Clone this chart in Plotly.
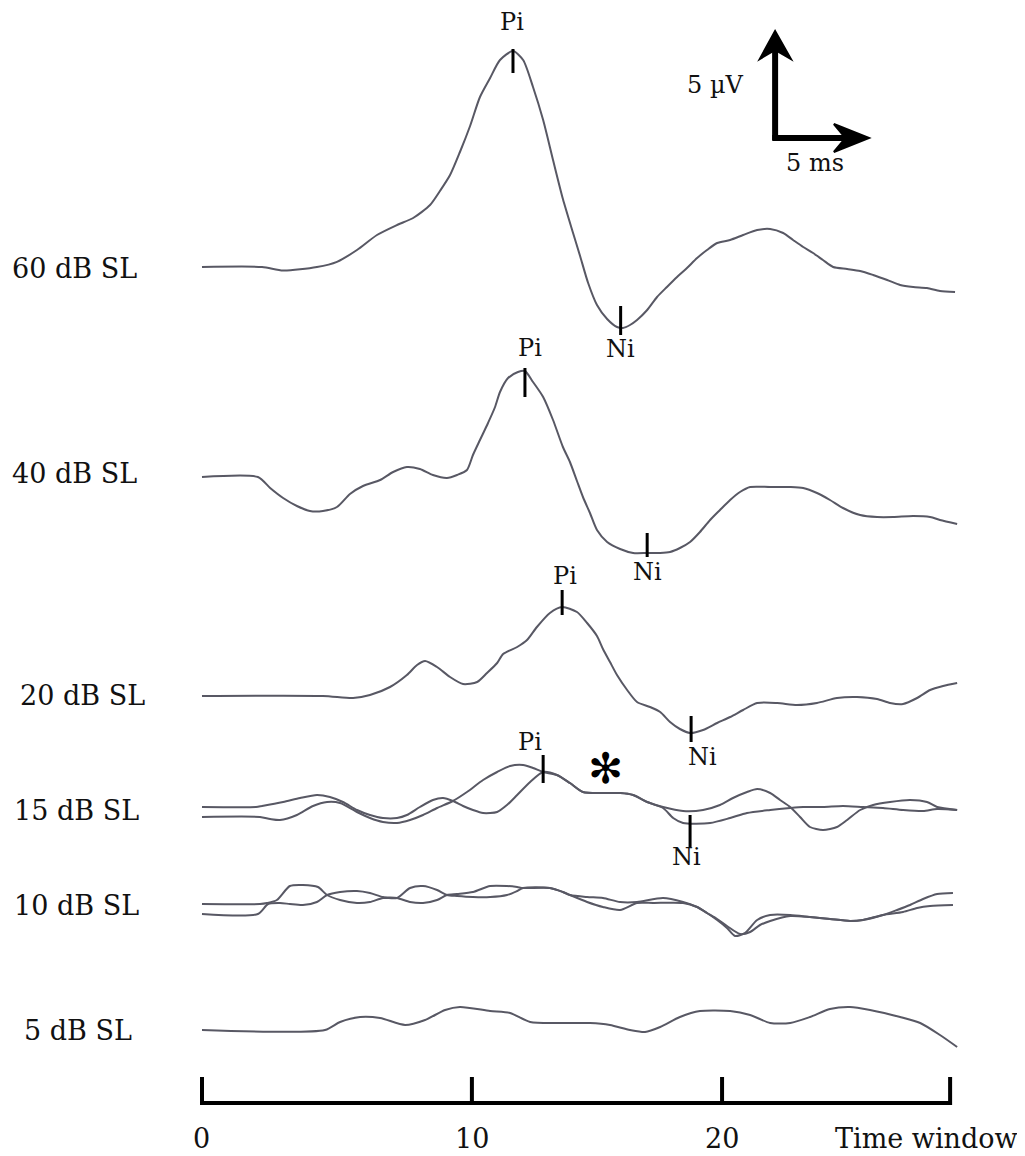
import plotly.graph_objects as go

# ------------------------------------------------------------------
# DATA  (time in ms, amplitude in microvolts relative to each baseline)
# ------------------------------------------------------------------
levels = ["60 dB SL", "40 dB SL", "20 dB SL", "15 dB SL", "10 dB SL", "5 dB SL"]

t60 = [0, 2.31, 3.12, 4.42, 5.19, 5.96, 6.73, 7.5, 8.12, 8.77, 9.15, 9.54, 9.92, 10.31, 10.69,
       11.08, 11.46, 11.96, 12.35, 12.73, 13.12, 13.5, 13.88, 14.27, 14.54, 14.85, 15.19, 15.58,
       15.96, 16.19, 16.46, 16.73, 17.12, 17.5, 17.88, 18.27, 18.65, 19.04, 19.42, 19.81, 20.31,
       20.81, 21.35, 21.85, 22.35, 22.73, 23.12, 23.5, 23.88, 24.27, 24.81, 25.31, 25.81, 26.35,
       26.85, 27.35, 27.88, 28.38, 28.96]
a60 = [0, 0, -0.18, 0, 0.26, 0.85, 1.6, 2.1, 2.45, 3.1, 3.8, 4.6, 5.75, 7.05, 8.5,
       9.45, 10.35, 10.8, 10.35, 9.0, 7.35, 5.35, 3.4, 1.7, 0.55, -0.8, -1.9, -2.6,
       -3.0, -3.05, -2.9, -2.65, -2.15, -1.5, -1.0, -0.5, -0.05, 0.45, 0.85, 1.2, 1.35,
       1.6, 1.85, 1.9, 1.7, 1.35, 1.0, 0.7, 0.35, 0, -0.1, -0.2, -0.4, -0.65,
       -0.9, -1.0, -1.05, -1.2, -1.25]

t40 = [0, 2.15, 2.62, 3.12, 3.65, 4.15, 4.65, 5.19, 5.69, 6.19, 6.85, 7.35, 7.88, 8.38, 8.88,
       9.42, 9.81, 10.19, 10.42, 10.69, 11.0, 11.27, 11.46, 11.77, 12.15, 12.42, 12.73, 13.12,
       13.5, 13.88, 14.15, 14.42, 14.65, 14.92, 15.19, 15.58, 16.08, 16.58, 17.12, 17.62, 18.0,
       18.38, 18.77, 19.15, 19.54, 19.92, 20.31, 20.69, 21.08, 21.85, 22.62, 23.12, 23.65,
       24.15, 24.65, 25.31, 25.96, 26.58, 27.35, 28.0, 28.38, 29.04]
a40 = [0, 0, -0.55, -1.05, -1.45, -1.7, -1.7, -1.5, -0.85, -0.45, -0.15, 0.25, 0.5, 0.4, 0.1,
       -0.05, 0.1, 0.35, 1.1, 1.85, 2.7, 3.5, 4.25, 4.95, 5.25, 5.3, 4.75, 4.0,
       2.85, 1.5, 0.75, -0.2, -1.0, -1.8, -2.65, -3.25, -3.6, -3.8, -3.8, -3.8, -3.75,
       -3.55, -3.25, -2.75, -2.15, -1.65, -1.15, -0.75, -0.5, -0.5, -0.5, -0.55, -0.8,
       -1.15, -1.55, -1.9, -2.0, -2.0, -1.95, -2.0, -2.15, -2.35]

t20 = [0, 4.65, 5.81, 6.46, 7.23, 7.88, 8.27, 8.58, 9.04, 9.54, 10.04, 10.58, 10.96, 11.35,
       11.58, 12.12, 12.5, 12.88, 13.38, 13.85, 14.42, 14.81, 15.19, 15.42, 15.69, 15.96, 16.35,
       16.73, 17.23, 17.62, 18.0, 18.38, 18.77, 19.27, 19.81, 20.31, 20.81, 21.35, 22.12, 22.88,
       23.65, 24.42, 25.19, 25.96, 26.46, 26.96, 27.5, 28.0, 28.5, 29.04]
a20 = [0, 0, -0.1, 0.05, 0.45, 1.05, 1.55, 1.75, 1.45, 0.95, 0.6, 0.7, 1.15, 1.65,
       2.1, 2.45, 2.8, 3.45, 4.15, 4.45, 4.2, 3.65, 3.0, 2.35, 1.7, 1.05, 0.3,
       -0.3, -0.55, -0.8, -1.3, -1.65, -1.85, -1.7, -1.35, -1.05, -0.7, -0.35, -0.35, -0.45,
       -0.35, -0.1, -0.05, -0.15, -0.35, -0.4, -0.1, 0.3, 0.5, 0.65]

t15a = [0, 2.08, 2.31, 3.12, 3.77, 4.42, 4.92, 5.42, 5.96, 6.46, 6.96, 7.5, 7.88, 8.38, 8.88,
        9.27, 9.65, 10.04, 10.42, 10.81, 11.35, 11.73, 12.12, 12.62, 13.12, 13.65, 14.15, 14.65,
        15.42, 16.08, 16.58, 17.12, 17.73, 18.5, 19.27, 19.92, 20.42, 20.96, 21.35, 21.85, 22.23,
        22.62, 23.0, 23.38, 23.88, 24.42, 24.81, 25.31, 25.81, 26.46, 27.23, 27.88, 28.27, 29.04]
a15a = [0, 0, 0.05, 0.25, 0.45, 0.6, 0.5, 0.25, -0.15, -0.4, -0.55, -0.55, -0.4, 0, 0.35,
        0.45, 0.3, 0.05, -0.15, -0.3, -0.25, 0.1, 0.6, 1.25, 1.75, 1.6, 1.2, 0.75,
        0.7, 0.7, 0.6, 0.25, 0, -0.2, -0.15, 0.1, 0.45, 0.75, 0.9, 0.7, 0.35,
        0, -0.5, -1.0, -1.15, -1.0, -0.65, -0.15, 0.1, 0.25, 0.35, 0.25, 0, -0.15]

t15b = [0, 2.23, 2.62, 3.0, 3.65, 4.27, 4.81, 5.31, 5.96, 6.46, 6.96, 7.5, 8.0, 8.5, 9.04,
        9.65, 10.19, 10.81, 11.35, 11.85, 12.35, 12.73, 13.12, 13.65, 14.15, 14.65, 15.42, 16.08,
        16.58, 17.12, 17.73, 18.12, 18.5, 19.54, 20.31, 20.96, 21.85, 22.62, 23.12, 23.88, 24.65,
        25.42, 26.19, 26.96, 27.73, 28.27, 29.04]
a15b = [0, 0, -0.1, -0.15, 0.1, 0.55, 0.75, 0.7, 0.25, -0.05, -0.25, -0.3, -0.15, 0.1, 0.45,
        0.8, 1.25, 1.85, 2.25, 2.55, 2.6, 2.45, 2.25, 2.1, 1.7, 1.25, 1.2, 1.2,
        1.1, 0.75, 0.45, -0.05, -0.3, -0.3, -0.05, 0.2, 0.35, 0.45, 0.5, 0.5, 0.55,
        0.5, 0.45, 0.35, 0.3, 0.4, 0.35]

t10a = [0, 2.23, 2.5, 2.88, 3.38, 3.88, 4.46, 4.81, 5.31, 5.96, 6.46, 6.96, 7.5, 8.0, 8.5,
        9.04, 9.42, 9.81, 10.42, 11.08, 11.73, 12.12, 12.35, 13.38, 13.88, 14.15, 14.81, 15.42,
        16.08, 16.73, 17.73, 18.5, 19.04, 19.42, 19.81, 20.19, 20.5, 20.88, 21.35, 21.85, 22.62,
        23.38, 24.15, 24.92, 25.42, 26.19, 26.73, 27.23, 27.73, 28.27, 28.88]
a10a = [0, 0, 0.05, 0.2, 0.9, 0.95, 0.85, 0.45, 0.2, 0.05, 0.1, 0.3, 0.3, 0.8, 0.9,
        0.7, 0.45, 0.4, 0.35, 0.35, 0.45, 0.65, 0.8, 0.8, 0.6, 0.45, 0.35, 0.3,
        0.1, 0.1, 0.3, 0.1, -0.15, -0.45, -0.8, -1.2, -1.6, -1.45, -0.8, -0.55, -0.55,
        -0.65, -0.75, -0.85, -0.8, -0.55, -0.3, -0.05, 0.25, 0.5, 0.55]

t10b = [0, 2.15, 2.54, 3.0, 3.38, 3.88, 4.42, 4.81, 5.31, 5.96, 6.46, 6.96, 7.5, 8.0, 8.5,
        9.04, 9.42, 9.81, 10.42, 11.08, 11.73, 12.12, 12.35, 13.38, 13.88, 14.15, 14.81, 15.42,
        16.08, 16.73, 17.35, 18.5, 19.04, 19.42, 19.81, 20.19, 20.69, 21.08, 21.46, 21.85, 22.62,
        23.38, 24.15, 24.92, 25.42, 26.19, 26.96, 27.5, 28.0, 28.88]
a10b = [0, 0, 0.5, 0.55, 0.5, 0.45, 0.6, 0.95, 1.1, 1.15, 1.05, 0.85, 0.8, 0.6, 0.55,
        0.7, 0.95, 1.0, 1.1, 1.4, 1.4, 1.35, 1.3, 1.3, 1.1, 0.95, 0.6, 0.35,
        0.2, 0.55, 0.55, 0.55, 0.35, 0.05, -0.25, -0.6, -1.0, -0.9, -0.55, -0.35, -0.1,
        -0.15, -0.25, -0.35, -0.3, -0.05, 0.1, 0.3, 0.4, 0.45]

t5 = [0, 4.73, 5.31, 6.08, 6.85, 7.81, 8.58, 9.35, 9.92, 11.08, 11.85, 12.62, 13.77, 14.92,
      15.69, 16.46, 17.04, 17.62, 18.38, 19.15, 20.31, 21.08, 21.85, 22.62, 23.38, 24.15, 24.92,
      25.69, 26.85, 27.62, 28.38, 29.04]
a5 = [0, 0, 0.4, 0.65, 0.6, 0.25, 0.5, 1.0, 1.15, 0.95, 0.85, 0.4, 0.35, 0.35,
      0.25, 0, -0.1, 0.15, 0.65, 0.95, 0.95, 0.75, 0.35, 0.35, 0.65, 1.05, 1.15,
      1.0, 0.65, 0.35, -0.25, -0.85]

# vertical baseline of each trace on the stacked display (microvolts)
baseline_60, baseline_40, baseline_20 = 44.45, 33.95, 23.0
baseline_15a, baseline_15b = 17.45, 16.95
baseline_10a, baseline_10b = 12.6, 12.1
baseline_5 = 6.3

# peak markers: name, latency (ms), level baseline, marker top/bottom (uV), label (ms, uV)
peak_names = ["Pi", "Ni", "Pi", "Ni", "Pi", "Ni", "Pi", "Ni"]
peak_base = [44.45, 44.45, 33.95, 33.95, 23.0, 23.0, 17.45, 17.45]
peak_t = [11.96, 16.1, 12.42, 17.12, 13.85, 18.81, 13.12, 18.77]
peak_top = [10.9, -1.95, 5.45, -2.8, 5.3, -1.0, 2.6, -0.4]
peak_bot = [9.7, -3.4, 4.0, -4.0, 4.05, -2.3, 1.2, -2.0]
peak_label_t = [11.92, 16.08, 12.62, 17.12, 13.96, 19.23, 12.62, 18.62]
peak_label_a = [12.25, -4.1, 6.45, -4.75, 6.0, -3.05, 3.25, -2.5]

# time-window ruler
ruler_ms = [0, 10.38, 20, 28.77]
ruler_labels = ["0", "10", "20", ""]

# ------------------------------------------------------------------
# FIGURE
# (the page body has an 8 px margin, so the figure is 8 px smaller
#  and its ranges start 8 px in)
# ------------------------------------------------------------------
W, H = 1017, 1148
X_RANGE = [-7.46, 31.65]
Y_RANGE = [0, 57.4]
TRACE_COLOR = "rgb(88,88,100)"
FONT = "DejaVu Serif"
TXT = "#111111"

fig = go.Figure()

series = [
    (t60, a60, baseline_60), (t40, a40, baseline_40), (t20, a20, baseline_20),
    (t15a, a15a, baseline_15a), (t15b, a15b, baseline_15b),
    (t10a, a10a, baseline_10a), (t10b, a10b, baseline_10b),
    (t5, a5, baseline_5),
]
for tt, aa, base in series:
    fig.add_trace(go.Scatter(
        x=tt, y=[base + v for v in aa], mode="lines",
        line=dict(color=TRACE_COLOR, width=2, shape="spline", smoothing=0.7),
        hoverinfo="skip", showlegend=False))

# peak tick marks
mx, my = [], []
for t, b, top, bot in zip(peak_t, peak_base, peak_top, peak_bot):
    mx += [t, t, None]
    my += [b + top, b + bot, None]
fig.add_trace(go.Scatter(x=mx, y=my, mode="lines", line=dict(color="black", width=3),
                         hoverinfo="skip", showlegend=False))

annotations = []
for name, t, b, la in zip(peak_names, peak_label_t, peak_base, peak_label_a):
    annotations.append(dict(x=t, y=b + la, text=name, showarrow=False, xanchor="center",
                            yanchor="middle", font=dict(family=FONT, size=24, color=TXT)))

# level labels
level_label_x = [-7.38, -7.38, -7.08, -7.31, -7.31, -6.92]
level_label_y = [44.4, 34.15, 23.05, 17.3, 12.55, 6.3]
for lab, lx, ly in zip(levels, level_label_x, level_label_y):
    annotations.append(dict(x=lx, y=ly, text=lab, showarrow=False, xanchor="left",
                            yanchor="middle", font=dict(family=FONT, size=27, color=TXT)))

# asterisk
annotations.append(dict(x=15.5, y=baseline_15a + 1.95, text="✻", showarrow=False,
                        xanchor="center", yanchor="middle",
                        font=dict(family="DejaVu Sans", size=42, color="black")))

# ruler
RULER_Y, TICK_TOP, LABEL_Y = 2.65, 3.95, 0.9
rx = [ruler_ms[0], ruler_ms[-1], None]
ry = [RULER_Y, RULER_Y, None]
for t in ruler_ms:
    rx += [t, t, None]
    ry += [RULER_Y - 0.1, TICK_TOP, None]
fig.add_trace(go.Scatter(x=rx, y=ry, mode="lines", line=dict(color="black", width=4),
                         hoverinfo="skip", showlegend=False))
for t, lab in zip(ruler_ms, ruler_labels):
    if lab:
        annotations.append(dict(x=t, y=LABEL_Y, text=lab, showarrow=False, xanchor="center",
                                yanchor="middle", font=dict(family=FONT, size=27, color=TXT)))
annotations.append(dict(x=31.46, y=LABEL_Y, text="Time window", showarrow=False,
                        xanchor="right", yanchor="middle",
                        font=dict(family=FONT, size=27, color=TXT)))

# scale bar (5 uV / 5 ms)
shapes = [
    dict(type="line", x0=22.04, y0=50.8, x1=22.04, y1=55.6, line=dict(color="black", width=6)),
    dict(type="line", x0=21.93, y0=50.9, x1=25.1, y1=50.9, line=dict(color="black", width=6)),
    dict(type="path", path="M 22.04 56.25 L 21.45 54.85 L 22.04 55.3 L 22.65 54.85 Z",
         fillcolor="black", line=dict(color="black", width=2)),
    dict(type="path", path="M 25.65 50.9 L 24.3 51.6 L 24.75 50.9 L 24.3 50.2 Z",
         fillcolor="black", line=dict(color="black", width=2)),
]
annotations.append(dict(x=19.73, y=53.55, text="5 µV", showarrow=False, xanchor="center",
                        yanchor="middle", font=dict(family=FONT, size=24, color=TXT)))
annotations.append(dict(x=23.58, y=49.65, text="5 ms", showarrow=False, xanchor="center",
                        yanchor="middle", font=dict(family=FONT, size=24, color=TXT)))

fig.update_layout(
    width=W, height=H, autosize=False,
    margin=dict(l=0, r=0, t=0, b=0, pad=0),
    paper_bgcolor="white", plot_bgcolor="white",
    xaxis=dict(range=X_RANGE, visible=False, fixedrange=True),
    yaxis=dict(range=Y_RANGE, visible=False, fixedrange=True),
    annotations=annotations, shapes=shapes, showlegend=False,
)

fig.write_html("out.html")
